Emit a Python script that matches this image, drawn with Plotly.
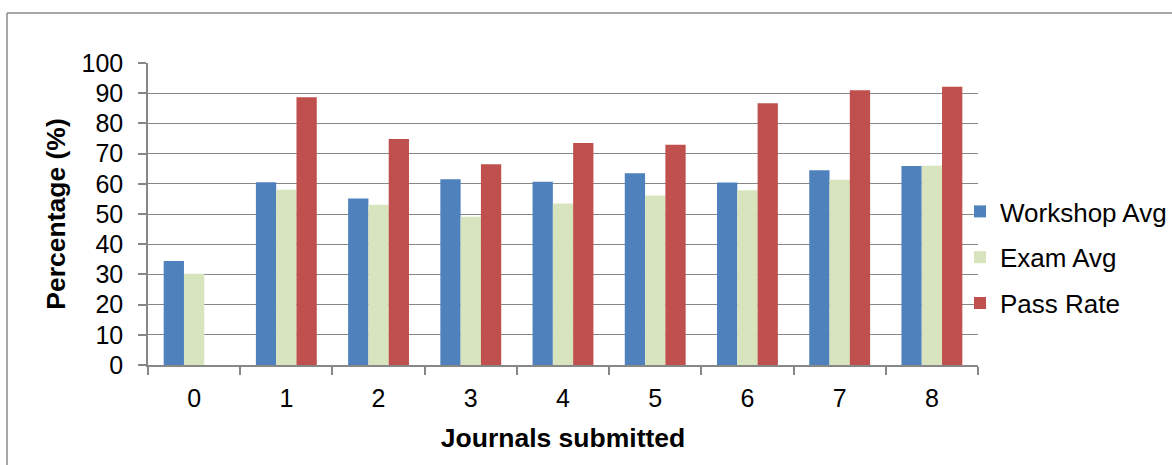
import plotly.graph_objects as go

# Journals submitted (category axis)
journals = ["0", "1", "2", "3", "4", "5", "6", "7", "8"]

# Average workshop mark, average exam mark and pass rate (%)
workshop_avg = [34.4, 60.5, 55.1, 61.5, 60.7, 63.5, 60.4, 64.5, 65.9]
exam_avg = [30.2, 58.0, 53.1, 49.1, 53.5, 56.1, 57.9, 61.3, 66.0]
pass_rate = [None, 88.7, 74.8, 66.5, 73.5, 72.9, 86.7, 91.0, 92.1]

y_ticks = list(range(0, 101, 10))

W, H = 1172, 465
ML, MR, MT, MB = 148, 194, 63, 100
FONT = "Liberation Sans, Arial, sans-serif"
GRID = "#878787"

fig = go.Figure()
series = [
    ("Workshop Avg", workshop_avg, "#4F81BD"),
    ("Exam Avg", exam_avg, "#D7E4BD"),
    ("Pass Rate", pass_rate, "#C0504D"),
]
for name, vals, color in series:
    fig.add_trace(go.Bar(
        x=journals, y=vals, name=name, legendgroup=name,
        marker=dict(color=color, line=dict(width=0)),
    ))

# chart-area frame (left and top edges)
def px_x(p):
    return (p - ML) / (W - ML - MR)

def px_y(p):
    return 1 - (p - MT) / (H - MT - MB)

frame = dict(color="#8a8a8a", width=1.5)
fig.add_shape(type="line", xref="paper", yref="paper",
              x0=px_x(7), x1=px_x(W + 5), y0=px_y(13), y1=px_y(13), line=frame)
fig.add_shape(type="line", xref="paper", yref="paper",
              x0=px_x(7), x1=px_x(7), y0=px_y(13), y1=px_y(H + 5), line=frame)

fig.update_layout(
    width=W, height=H,
    margin=dict(l=ML, r=MR, t=MT, b=MB, pad=0, autoexpand=False),
    paper_bgcolor="white", plot_bgcolor="white",
    font=dict(family=FONT, size=25, color="black"),
    barmode="group", bargap=0.34, bargroupgap=0,
    legend=dict(
        x=px_x(960), xanchor="left", y=px_y(188), yanchor="top",
        font=dict(size=26), tracegroupgap=9,
        itemwidth=30, bgcolor="rgba(0,0,0,0)",
    ),
    xaxis=dict(
        type="category", tickson="boundaries",
        ticks="outside", ticklen=8, tickwidth=1.5, tickcolor=GRID,
        showline=True, linecolor=GRID, linewidth=1.5,
        showgrid=False,
        tickfont=dict(size=25), ticklabelstandoff=10,
        title=dict(text="<b>Journals submitted</b>", font=dict(size=26.5), standoff=18),
    ),
    yaxis=dict(
        range=[0, 100], tickvals=y_ticks,
        ticks="outside", ticklen=8, tickwidth=1.5, tickcolor=GRID,
        showline=True, linecolor=GRID, linewidth=1.5,
        showgrid=True, gridcolor=GRID, gridwidth=1.3,
        zeroline=False,
        tickfont=dict(size=25), ticklabelstandoff=10,
        title=dict(text="<b>Percentage (%)</b>", font=dict(size=26.5), standoff=8),
    ),
)

fig.write_html("out.html")
